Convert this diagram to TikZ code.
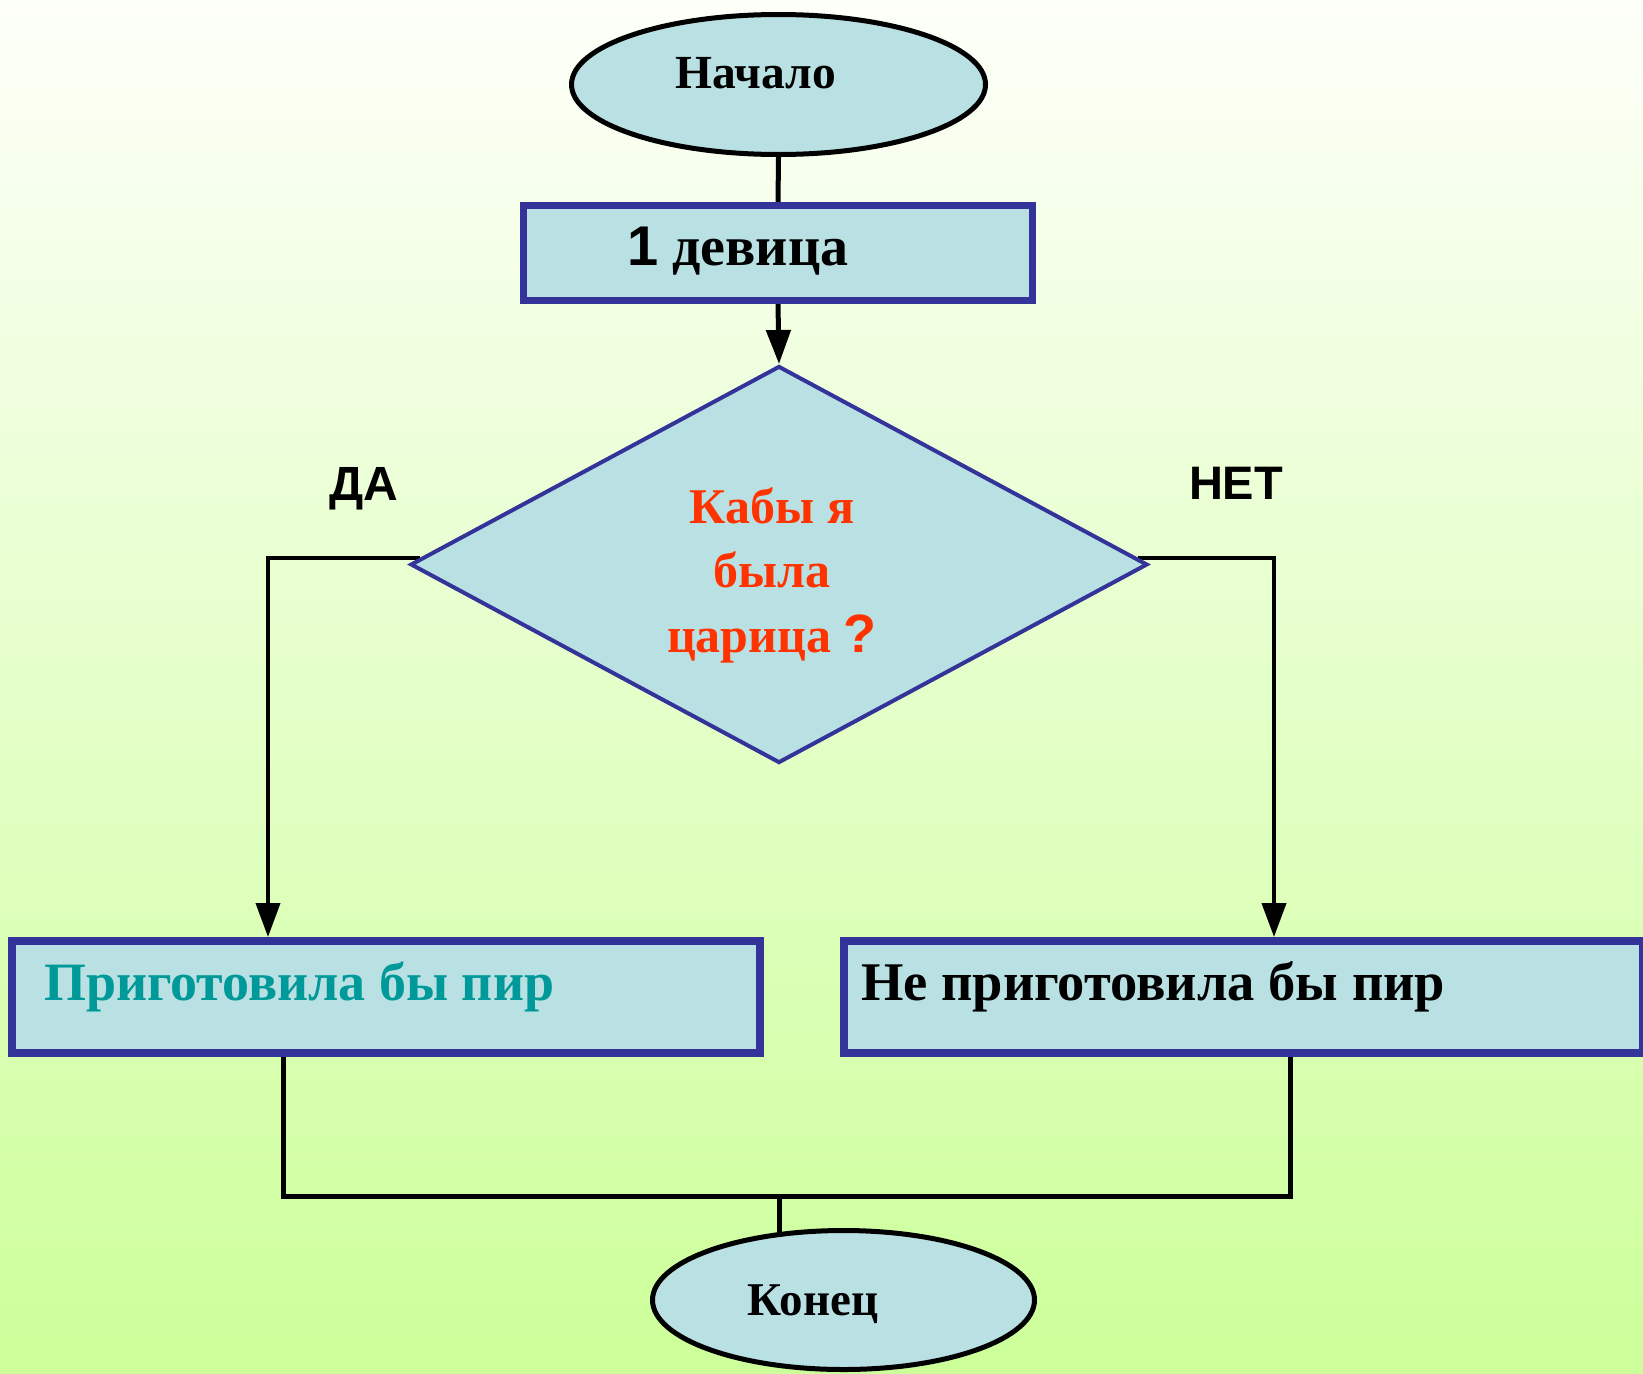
\documentclass[tikz,border=0pt]{standalone}
\usepackage{fontspec}
\setmainfont{Liberation Serif}
\newfontfamily\arialfont{Liberation Sans}
\usetikzlibrary{shapes.geometric,arrows.meta,calc}
\definecolor{boxfill}{HTML}{B9E0E3}
\definecolor{boxline}{HTML}{333399}
\definecolor{qred}{HTML}{FF3300}
\definecolor{tealtext}{HTML}{009999}
\definecolor{bgtop}{HTML}{FDFFF9}
\definecolor{bgmid}{HTML}{E6FFD0}
\definecolor{bgbot}{HTML}{CCFF99}
\pgfdeclarelayer{bglayer}
\pgfdeclarelayer{connlayer}
\pgfsetlayers{bglayer,connlayer,main}
\tikzset{
  termnode/.style={ellipse, draw=black, fill=boxfill, line width=5pt, inner sep=0pt},
  procnode/.style={rectangle, draw=boxline, fill=boxfill, inner sep=0pt},
  decnode/.style={diamond, draw=boxline, fill=boxfill, line width=4pt, inner sep=0pt},
  txt/.style={inner sep=0pt, font=\bfseries},
  conn/.style={draw=black, line width=5pt},
  branch/.style={draw=black, line width=4pt, -{Triangle[length=34pt,width=24pt]}},
}
\begin{document}
\begin{tikzpicture}[x=1pt,y=-1pt]
\begin{pgfonlayer}{bglayer}
\shade[top color=bgtop, middle color=bgmid, bottom color=bgbot] (0,0) rectangle (1643,1373);
\end{pgfonlayer}
\useasboundingbox (0,0) rectangle (1643,1373);

% nodes
\node[termnode, minimum width=414pt, minimum height=140pt] (start) at (778.5,84.5) {};
\node[txt, anchor=base] (tstart) at (756,88) {\fontsize{47.5}{56}\selectfont Начало};

\node[procnode, line width=6.5pt, minimum width=509pt, minimum height=95pt] (box1) at (778,253) {};
\node[txt, anchor=base west] (tbox1) at (627,265) {\fontsize{56}{66}\selectfont{\arialfont\bfseries 1} девица};

\node[decnode, minimum width=737pt, minimum height=397pt] (dec) at (779,564.5) {};
\node[anchor=base, align=center, text=qred, inner sep=0pt,
      font=\bfseries\fontsize{50}{64.5}\selectfont] (tdec) at (772,652)
  {Кабы я\\была\\царица {\arialfont\bfseries\fontsize{54}{64.5}\selectfont ?}};

\node[txt, anchor=base, font=\arialfont\bfseries] (yes) at (364,500) {\fontsize{48}{55}\selectfont ДА};
\node[txt, anchor=base, font=\arialfont\bfseries] (no) at (1236,499) {\fontsize{47}{55}\selectfont НЕТ};

\node[procnode, line width=8pt, minimum width=747.6pt, minimum height=112pt] (pirL) at (386.2,997) {};
\node[txt, anchor=base west, text=tealtext] (tpirL) at (44,1000) {\fontsize{54}{66}\selectfont Приготовила бы пир};

\node[procnode, line width=8pt, minimum width=799pt, minimum height=112pt] (pirR) at (1243.5,997) {};
\node[txt, anchor=base west] (tpirR) at (861,1000) {\fontsize{54.5}{66}\selectfont Не приготовила бы пир};

\node[termnode, minimum width=382pt, minimum height=139pt] (finish) at (843.5,1300) {};
\node[txt, anchor=base] (tfinish) at (813,1315) {\fontsize{47}{56}\selectfont Конец};

% helper coordinates
\coordinate (xL) at (268,0);
\coordinate (xR) at (1274,0);
\coordinate (jl) at (283,1196);
\coordinate (jr) at (1290,1196);
\coordinate (jm) at (779,1196);
\coordinate (dl) at ($(dec.west)!0.03!(dec.north)$);
\coordinate (dr) at ($(dec.east)!0.03!(dec.north)$);

% connectors
\begin{pgfonlayer}{connlayer}
\draw[conn] (start.south) -- (box1.north);
\draw[conn, -{Triangle[length=34pt,width=24pt]}] (box1.south) -- (dec.north);
\draw[branch] (dl) -| (pirL.north -| xL);
\draw[branch] (dr) -| (pirR.north -| xR);
\draw[conn] (pirL.south -| jl) -- (jl) -- (jr) -- (pirR.south -| jr);
\draw[conn] (jm) -- ($(finish.north -| jm)+(0,12)$);
\end{pgfonlayer}
\end{tikzpicture}
\end{document}
